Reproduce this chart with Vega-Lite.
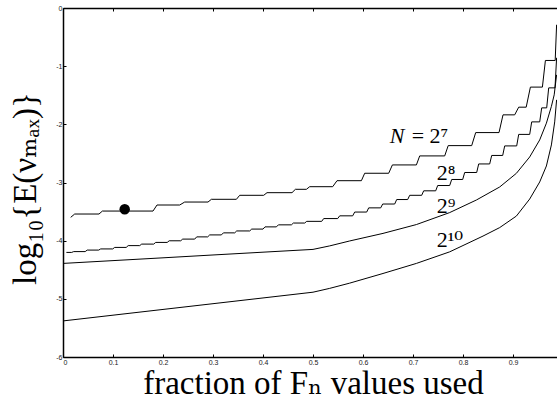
{
  "$schema": "https://vega.github.io/schema/vega-lite/v6.json",
  "width": 494,
  "height": 349,
  "autosize": {"type": "none"},
  "padding": {"left": 63, "top": 8, "right": 0, "bottom": 48},
  "background": "white",
  "config": {
    "view": {"stroke": null},
    "axis": {
      "grid": false,
      "domainColor": "black",
      "domainWidth": 1.5,
      "tickColor": "black",
      "tickSize": -3,
      "tickWidth": 1,
      "labelFont": "Liberation Sans",
      "labelFontSize": 7,
      "labelColor": "#222",
      "titleFont": "Liberation Serif, DejaVu Serif",
      "titleFontSize": 33,
      "titleFontWeight": "normal",
      "titleColor": "black"
    }
  },
  "datasets": {
    "curves": [
      {"N": "2^7", "f": 0.0154, "logE": -3.599},
      {"N": "2^7", "f": 0.0234, "logE": -3.542},
      {"N": "2^7", "f": 0.072, "logE": -3.542},
      {"N": "2^7", "f": 0.0788, "logE": -3.491},
      {"N": "2^7", "f": 0.18, "logE": -3.491},
      {"N": "2^7", "f": 0.188, "logE": -3.387},
      {"N": "2^7", "f": 0.2334, "logE": -3.387},
      {"N": "2^7", "f": 0.2434, "logE": -3.336},
      {"N": "2^7", "f": 0.29, "logE": -3.336},
      {"N": "2^7", "f": 0.2968, "logE": -3.289},
      {"N": "2^7", "f": 0.3468, "logE": -3.289},
      {"N": "2^7", "f": 0.3534, "logE": -3.22},
      {"N": "2^7", "f": 0.4014, "logE": -3.22},
      {"N": "2^7", "f": 0.408, "logE": -3.175},
      {"N": "2^7", "f": 0.458, "logE": -3.175},
      {"N": "2^7", "f": 0.4648, "logE": -3.117},
      {"N": "2^7", "f": 0.4868, "logE": -3.117},
      {"N": "2^7", "f": 0.4934, "logE": -3.072},
      {"N": "2^7", "f": 0.5394, "logE": -3.072},
      {"N": "2^7", "f": 0.548, "logE": -2.969},
      {"N": "2^7", "f": 0.5968, "logE": -2.969},
      {"N": "2^7", "f": 0.6034, "logE": -2.841},
      {"N": "2^7", "f": 0.6514, "logE": -2.841},
      {"N": "2^7", "f": 0.6588, "logE": -2.698},
      {"N": "2^7", "f": 0.7068, "logE": -2.698},
      {"N": "2^7", "f": 0.7134, "logE": -2.543},
      {"N": "2^7", "f": 0.7634, "logE": -2.543},
      {"N": "2^7", "f": 0.7704, "logE": -2.366},
      {"N": "2^7", "f": 0.8174, "logE": -2.366},
      {"N": "2^7", "f": 0.8254, "logE": -2.142},
      {"N": "2^7", "f": 0.872, "logE": -2.142},
      {"N": "2^7", "f": 0.88, "logE": -1.837},
      {"N": "2^7", "f": 0.9034, "logE": -1.837},
      {"N": "2^7", "f": 0.9114, "logE": -1.705},
      {"N": "2^7", "f": 0.9264, "logE": -1.705},
      {"N": "2^7", "f": 0.9348, "logE": -1.36},
      {"N": "2^7", "f": 0.9588, "logE": -1.36},
      {"N": "2^7", "f": 0.9648, "logE": -0.902},
      {"N": "2^7", "f": 0.9844, "logE": -0.902},
      {"N": "2^7", "f": 0.9872, "logE": -0.288},

      {"N": "2^8", "f": 0.0068, "logE": -4.202},
      {"N": "2^8", "f": 0.0174, "logE": -4.202},
      {"N": "2^8", "f": 0.0214, "logE": -4.188},
      {"N": "2^8", "f": 0.0444, "logE": -4.188},
      {"N": "2^8", "f": 0.0484, "logE": -4.162},
      {"N": "2^8", "f": 0.0714, "logE": -4.162},
      {"N": "2^8", "f": 0.0754, "logE": -4.142},
      {"N": "2^8", "f": 0.0994, "logE": -4.142},
      {"N": "2^8", "f": 0.1034, "logE": -4.116},
      {"N": "2^8", "f": 0.1264, "logE": -4.116},
      {"N": "2^8", "f": 0.1304, "logE": -4.085},
      {"N": "2^8", "f": 0.1534, "logE": -4.085},
      {"N": "2^8", "f": 0.1574, "logE": -4.059},
      {"N": "2^8", "f": 0.1814, "logE": -4.059},
      {"N": "2^8", "f": 0.1854, "logE": -4.03},
      {"N": "2^8", "f": 0.2084, "logE": -4.03},
      {"N": "2^8", "f": 0.2124, "logE": -4.002},
      {"N": "2^8", "f": 0.2354, "logE": -4.002},
      {"N": "2^8", "f": 0.2394, "logE": -3.973},
      {"N": "2^8", "f": 0.2634, "logE": -3.973},
      {"N": "2^8", "f": 0.2674, "logE": -3.935},
      {"N": "2^8", "f": 0.2894, "logE": -3.935},
      {"N": "2^8", "f": 0.2934, "logE": -3.901},
      {"N": "2^8", "f": 0.3168, "logE": -3.901},
      {"N": "2^8", "f": 0.3208, "logE": -3.866},
      {"N": "2^8", "f": 0.3434, "logE": -3.866},
      {"N": "2^8", "f": 0.3474, "logE": -3.833},
      {"N": "2^8", "f": 0.3734, "logE": -3.833},
      {"N": "2^8", "f": 0.3774, "logE": -3.801},
      {"N": "2^8", "f": 0.4, "logE": -3.801},
      {"N": "2^8", "f": 0.404, "logE": -3.763},
      {"N": "2^8", "f": 0.4268, "logE": -3.763},
      {"N": "2^8", "f": 0.4308, "logE": -3.728},
      {"N": "2^8", "f": 0.4568, "logE": -3.728},
      {"N": "2^8", "f": 0.4608, "logE": -3.697},
      {"N": "2^8", "f": 0.4834, "logE": -3.697},
      {"N": "2^8", "f": 0.4874, "logE": -3.668},
      {"N": "2^8", "f": 0.5174, "logE": -3.668},
      {"N": "2^8", "f": 0.5214, "logE": -3.62},
      {"N": "2^8", "f": 0.5494, "logE": -3.62},
      {"N": "2^8", "f": 0.5534, "logE": -3.573},
      {"N": "2^8", "f": 0.5794, "logE": -3.573},
      {"N": "2^8", "f": 0.5834, "logE": -3.508},
      {"N": "2^8", "f": 0.6074, "logE": -3.508},
      {"N": "2^8", "f": 0.6114, "logE": -3.436},
      {"N": "2^8", "f": 0.6354, "logE": -3.436},
      {"N": "2^8", "f": 0.6394, "logE": -3.37},
      {"N": "2^8", "f": 0.6634, "logE": -3.37},
      {"N": "2^8", "f": 0.6674, "logE": -3.293},
      {"N": "2^8", "f": 0.6894, "logE": -3.293},
      {"N": "2^8", "f": 0.6934, "logE": -3.22},
      {"N": "2^8", "f": 0.7174, "logE": -3.22},
      {"N": "2^8", "f": 0.7214, "logE": -3.143},
      {"N": "2^8", "f": 0.7454, "logE": -3.143},
      {"N": "2^8", "f": 0.7494, "logE": -3.052},
      {"N": "2^8", "f": 0.7734, "logE": -3.052},
      {"N": "2^8", "f": 0.7774, "logE": -2.948},
      {"N": "2^8", "f": 0.7994, "logE": -2.948},
      {"N": "2^8", "f": 0.8034, "logE": -2.828},
      {"N": "2^8", "f": 0.8274, "logE": -2.828},
      {"N": "2^8", "f": 0.8314, "logE": -2.681},
      {"N": "2^8", "f": 0.8534, "logE": -2.681},
      {"N": "2^8", "f": 0.8574, "logE": -2.535},
      {"N": "2^8", "f": 0.8794, "logE": -2.535},
      {"N": "2^8", "f": 0.8834, "logE": -2.371},
      {"N": "2^8", "f": 0.9074, "logE": -2.371},
      {"N": "2^8", "f": 0.9114, "logE": -2.173},
      {"N": "2^8", "f": 0.9334, "logE": -2.173},
      {"N": "2^8", "f": 0.9374, "logE": -1.958},
      {"N": "2^8", "f": 0.9534, "logE": -1.958},
      {"N": "2^8", "f": 0.9574, "logE": -1.717},
      {"N": "2^8", "f": 0.9674, "logE": -1.717},
      {"N": "2^8", "f": 0.9714, "logE": -1.373},
      {"N": "2^8", "f": 0.984, "logE": -1.373},
      {"N": "2^8", "f": 0.9872, "logE": -0.856},

      {"N": "2^9", "f": 0.0, "logE": -4.391},
      {"N": "2^9", "f": 0.1, "logE": -4.343},
      {"N": "2^9", "f": 0.2, "logE": -4.295},
      {"N": "2^9", "f": 0.3, "logE": -4.246},
      {"N": "2^9", "f": 0.4, "logE": -4.198},
      {"N": "2^9", "f": 0.5, "logE": -4.15},
      {"N": "2^9", "f": 0.5334, "logE": -4.09},
      {"N": "2^9", "f": 0.5734, "logE": -4.005},
      {"N": "2^9", "f": 0.64, "logE": -3.875},
      {"N": "2^9", "f": 0.7068, "logE": -3.723},
      {"N": "2^9", "f": 0.7734, "logE": -3.517},
      {"N": "2^9", "f": 0.8268, "logE": -3.301},
      {"N": "2^9", "f": 0.8734, "logE": -3.077},
      {"N": "2^9", "f": 0.9068, "logE": -2.842},
      {"N": "2^9", "f": 0.9334, "logE": -2.561},
      {"N": "2^9", "f": 0.9534, "logE": -2.268},
      {"N": "2^9", "f": 0.9668, "logE": -1.98},
      {"N": "2^9", "f": 0.9768, "logE": -1.691},
      {"N": "2^9", "f": 0.9824, "logE": -1.493},
      {"N": "2^9", "f": 0.9872, "logE": -1.149},

      {"N": "2^10", "f": 0.0, "logE": -5.38},
      {"N": "2^10", "f": 0.5, "logE": -4.886},
      {"N": "2^10", "f": 0.5334, "logE": -4.82},
      {"N": "2^10", "f": 0.5734, "logE": -4.73},
      {"N": "2^10", "f": 0.64, "logE": -4.564},
      {"N": "2^10", "f": 0.7068, "logE": -4.391},
      {"N": "2^10", "f": 0.7734, "logE": -4.192},
      {"N": "2^10", "f": 0.84, "logE": -3.921},
      {"N": "2^10", "f": 0.8734, "logE": -3.775},
      {"N": "2^10", "f": 0.9068, "logE": -3.577},
      {"N": "2^10", "f": 0.9334, "logE": -3.284},
      {"N": "2^10", "f": 0.9534, "logE": -2.991},
      {"N": "2^10", "f": 0.9668, "logE": -2.716},
      {"N": "2^10", "f": 0.9768, "logE": -2.354},
      {"N": "2^10", "f": 0.9834, "logE": -1.958},
      {"N": "2^10", "f": 0.9872, "logE": -1.579}
    ],
    "dot": [{"f": 0.1234, "logE": -3.46}],
    "italicLabels": [
      {"label": "N", "f": 0.6534, "logE": -2.32}
    ],
    "labels": [
      {"label": "= 2⁷", "f": 0.6974, "logE": -2.32},
      {"label": "2⁸", "f": 0.7474, "logE": -2.957},
      {"label": "2⁹", "f": 0.7474, "logE": -3.525},
      {"label": "2¹⁰", "f": 0.7474, "logE": -4.111}
    ]
  },
  "layer": [
    {
      "data": {"name": "curves"},
      "mark": {"type": "line", "color": "black", "strokeWidth": 1, "clip": true},
      "encoding": {
        "x": {
          "field": "f", "type": "quantitative",
          "scale": {"domain": [0, 0.988], "nice": false, "zero": false},
          "axis": {
            "orient": "bottom",
            "values": [0, 0.1, 0.2, 0.3, 0.4, 0.5, 0.6, 0.7, 0.8, 0.9],
            "labelExpr": "'' + datum.value",
            "labelPadding": 4,
            "title": "fraction of Fₙ values used",
            "titleX": 250,
            "titleY": 36,
            "titleBaseline": "alphabetic"
          }
        },
        "y": {
          "field": "logE", "type": "quantitative",
          "scale": {"domain": [-6, 0], "nice": false, "zero": false},
          "axis": {
            "values": [-6, -5, -4, -3, -2, -1, 0],
            "labelExpr": "'' + datum.value",
            "labelPadding": 4,
            "title": "log₁₀{E(νₘₐₓ)}",
            "titleX": -28,
            "titleY": 180,
            "titleAngle": 270,
            "titleAlign": "center",
            "titleBaseline": "alphabetic"
          }
        },
        "detail": {"field": "N"}
      }
    },
    {
      "mark": {"type": "rule", "color": "black", "strokeWidth": 1},
      "encoding": {
        "x": {
          "datum": 0.5, "type": "quantitative",
          "axis": {
            "orient": "top",
            "values": [0, 0.1, 0.2, 0.3, 0.4, 0.5, 0.6, 0.7, 0.8, 0.9],
            "labels": false,
            "title": null
          }
        }
      }
    },
    {
      "data": {"name": "dot"},
      "mark": {"type": "point", "filled": true, "color": "black", "size": 110, "opacity": 1},
      "encoding": {
        "x": {"field": "f", "type": "quantitative", "axis": null},
        "y": {"field": "logE", "type": "quantitative"}
      }
    },
    {
      "data": {"name": "italicLabels"},
      "mark": {"type": "text", "font": "Liberation Serif, DejaVu Serif", "fontStyle": "italic", "fontSize": 22, "align": "left", "baseline": "alphabetic", "color": "black"},
      "encoding": {
        "x": {"field": "f", "type": "quantitative", "axis": null},
        "y": {"field": "logE", "type": "quantitative"},
        "text": {"field": "label"}
      }
    },
    {
      "data": {"name": "labels"},
      "mark": {"type": "text", "font": "Liberation Serif, DejaVu Serif", "fontSize": 22, "align": "left", "baseline": "alphabetic", "color": "black"},
      "encoding": {
        "x": {"field": "f", "type": "quantitative", "axis": null},
        "y": {"field": "logE", "type": "quantitative"},
        "text": {"field": "label"}
      }
    }
  ],
  "resolve": {"axis": {"x": "independent"}}
}
